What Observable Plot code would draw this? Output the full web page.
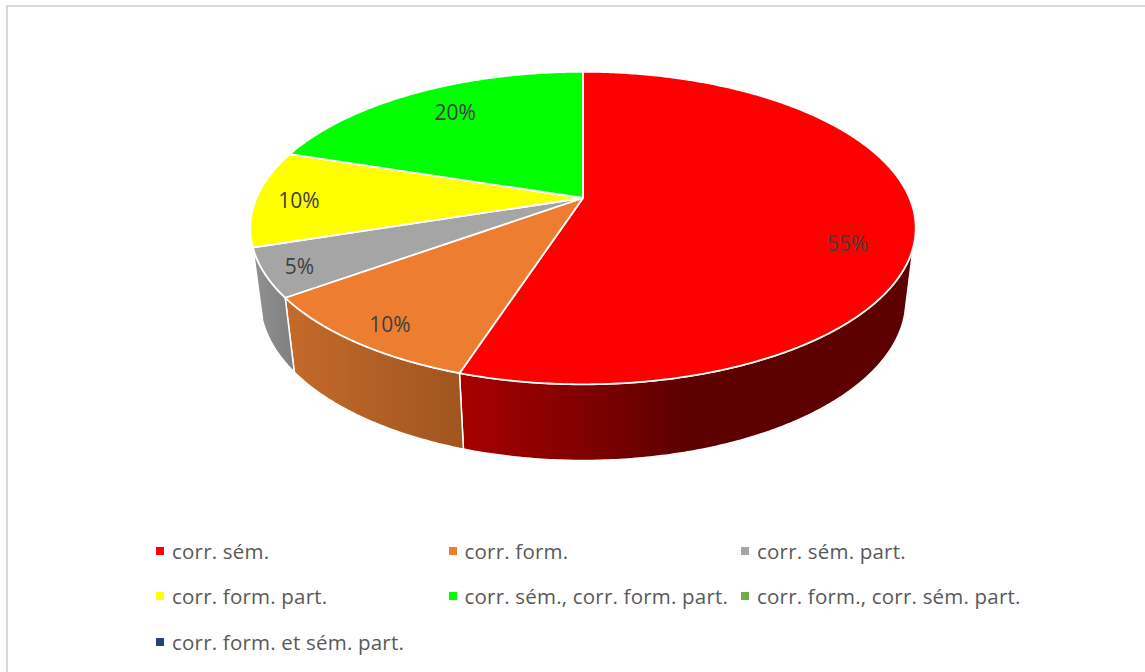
<!DOCTYPE html>
<html lang="fr">
<head>
<meta charset="utf-8">
<script src="https://cdn.jsdelivr.net/npm/d3@7"></script>
<script src="https://cdn.jsdelivr.net/npm/@observablehq/plot@0.6"></script>
<style>
  html, body { margin: 0; background: #fff; }
  #frame { position: absolute; left: 6px; top: 5px; width: 1139px; height: 667px; box-sizing: border-box;
           border-left: 2px solid #d9d9d9; border-top: 2px solid #d9d9d9; overflow: hidden; }
  #chart { position: absolute; left: -8px; top: -7px; }
  #legend { position: absolute; left: 148px; top: 521px; display: grid;
            grid-template-columns: repeat(3, 292.5px); grid-auto-rows: 45.5px;
            font: 20.5px "Open Sans", sans-serif; letter-spacing: 0.2px; color: #595959; }
  #legend div { display: flex; align-items: center; white-space: nowrap; }
  #legend i { width: 8px; height: 8px; margin-right: 8px; flex: none; }
  svg text { font-family: "Open Sans", sans-serif; }
</style>
</head>
<body>
<div id="frame"><div id="chart"></div><div id="legend"></div></div>
<script>
// Data
const categories = ["corr. sém.", "corr. form.", "corr. sém. part.", "corr. form. part.",
  "corr. sém., corr. form. part.", "corr. form., corr. sém. part.", "corr. form. et sém. part."];
const shares = [55, 10, 5, 10, 20, 0, 0];
const colors = ["#ff0000", "#ed7d31", "#a5a5a5", "#ffff00", "#00ff00", "#70ad47", "#264478"];

// 3D pie: two perspective rings (top face and bottom rim) on a unit disc
const topRing = {cx: 582.5, cy: 197.5, a: 326.5, b: 150.5, c: 0.1923};
const lowRing = {cx: 582.5, cy: 269.6, a: 317, b: 154.2, c: 0.19};
const project = (ring, angle, r = 1) => {
  const u = r * Math.sin(angle), v = r * Math.cos(angle), w = 1 + ring.c * v;
  return {x: ring.cx + ring.a * u / w, y: ring.cy - ring.b * v / w};
};
const total = d3.sum(shares);
let running = 0;
const slices = shares.map((value, i) => {
  const start = running / total * 2 * Math.PI;
  running += value;
  return {i, value, start, end: running / total * 2 * Math.PI};
});
const arcAngles = (a, b) => {
  const n = Math.max(2, Math.ceil(Math.abs(b - a) / 0.01));
  return d3.range(n + 1).map(k => a + (b - a) * k / n);
};
const facePoints = slices.filter(s => s.value > 0).flatMap(s => [
  {...project(topRing, 0, 0), slice: s.i},
  ...arcAngles(s.start, s.end).map(t => ({...project(topRing, t), slice: s.i})),
  {...project(topRing, 0, 0), slice: s.i}
]);
// Only the near side of the cylinder shows, from 30% to 70% of the turn
const seen0 = 0.3 * 2 * Math.PI, seen1 = 0.7 * 2 * Math.PI, lowSeen0 = 0.293 * 2 * Math.PI;
const wallPoints = (s0, s1) => [
  ...arcAngles(s0, s1).map(t => project(topRing, t)),
  ...arcAngles(s1, s0 === seen0 ? lowSeen0 : s0).map(t => project(lowRing, t))
];
const walls = slices.filter(s => s.value > 0 && s.end > seen0 && s.start < seen1).map(s => ({
  id: "wall" + s.i,
  points: wallPoints(Math.max(s.start, seen0), Math.min(s.end, seen1))
}));
const wallShades = {
  wall0: [[0, "#a80000"], [0.38, "#700000"], [0.5, "#5c0000"], [1, "#5c0000"]],
  wall1: [[0, "#c46a2b"], [1, "#a05520"]],
  wall2: [[0, "#929292"], [1, "#7f7f7f"]]
};
// Label placement on the disc: radial fraction and a vertical nudge, by slice
const labelPlace = [[0.795, 27], [0.85, 5], [0.89, 2.5], [0.87, 3], [0.77, -4]];
const labels = slices.filter(s => s.value > 0).map(s => {
  const [r, nudge] = labelPlace[s.i];
  const rim = project(topRing, (s.start + s.end) / 2);
  return {
    x: topRing.cx + (rim.x - topRing.cx) * r,
    y: topRing.cy + (rim.y - topRing.cy) * r + nudge,
    text: s.value + "%"
  };
});

const gradients = () => {
  const defs = d3.create("svg:defs");
  Object.entries(wallShades).forEach(([id, stops]) => {
    const g = defs.append("linearGradient").attr("id", id)
      .attr("x1", 0).attr("x2", 1).attr("y1", 0).attr("y2", 0);
    stops.forEach(([o, c]) => g.append("stop").attr("offset", o).attr("stop-color", c));
  });
  return defs.node();
};

const W = 1145, H = 530;
const plot = Plot.plot({
  width: W, height: H, margin: 0,
  x: {domain: [0, W], range: [0, W], axis: null},
  y: {domain: [0, H], range: [0, H], axis: null},
  color: {type: "identity"},
  style: {background: "transparent"},
  marks: [
    gradients,
    ...walls.map(w => Plot.line(w.points.concat(w.points[0]), {
      x: "x", y: "y", fill: `url(#${w.id})`, stroke: "#fff", strokeWidth: 1.5, curve: "linear"
    })),
    Plot.line(facePoints, {
      x: "x", y: "y", z: "slice", fill: d => colors[d.slice],
      stroke: "#fff", strokeWidth: 1.8, curve: "linear"
    }),
    Plot.text(labels, {x: "x", y: "y", text: "text", fill: "#404040", fontSize: 21})
  ]
});
document.getElementById("chart").append(plot);

const legend = d3.select("#legend");
categories.forEach((name, i) => {
  const row = legend.append("div");
  row.append("i").style("background", colors[i]);
  row.append("span").text(name);
});
</script>
</body>
</html>
